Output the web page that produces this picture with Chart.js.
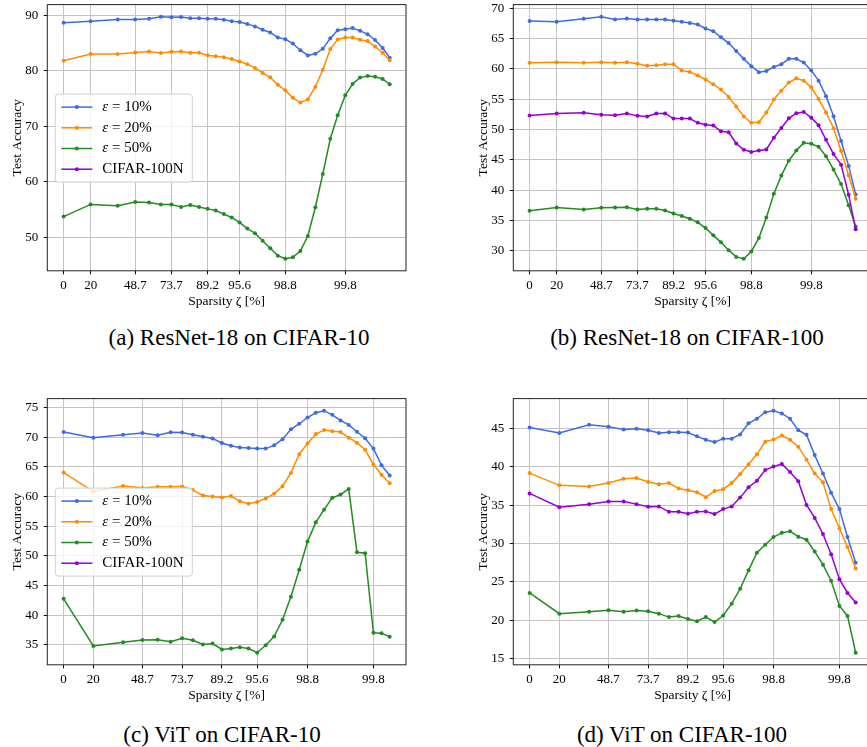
<!DOCTYPE html>
<html>
<head>
<meta charset="utf-8">
<script src="https://cdn.jsdelivr.net/npm/chart.js@4.4.1/dist/chart.umd.min.js"></script>
<style>
  html, body { margin: 0; padding: 0; background: #fff; }
  body { width: 867px; height: 747px; overflow: hidden; position: relative; font-family: 'Liberation Serif', serif; }
  .panel { position: absolute; width: 430px; height: 320px; }
  .caption { position: absolute; font-size: 23px; line-height: 23px; color: #000; white-space: nowrap; transform: translateX(-50%); }
</style>
</head>
<body>
<div class="panel" style="left:0;top:0"><canvas id="chartA" width="430" height="320"></canvas></div>
<div class="panel" style="left:466px;top:0"><canvas id="chartB" width="430" height="320"></canvas></div>
<div class="panel" style="left:0;top:394px"><canvas id="chartC" width="430" height="320"></canvas></div>
<div class="panel" style="left:466px;top:394px"><canvas id="chartD" width="430" height="320"></canvas></div>
<div class="caption" style="left:239px;top:326px">(a) ResNet-18 on CIFAR-10</div>
<div class="caption" style="left:687px;top:326px">(b) ResNet-18 on CIFAR-100</div>
<div class="caption" style="left:222px;top:723px">(c) ViT on CIFAR-10</div>
<div class="caption" style="left:682px;top:723px">(d) ViT on CIFAR-100</div>
<script>
// sparsity (%) after each pruning round
const sparsity = [0, 20, 36, 48.8, 59.04, 67.232, 73.786, 79.028, 83.223, 86.578, 89.263, 91.410, 93.128,
  94.502, 95.602, 96.482, 97.185, 97.748, 98.199, 98.559, 98.847, 99.078, 99.262, 99.410, 99.528, 99.622,
  99.698, 99.758, 99.807, 99.845, 99.876, 99.901, 99.921, 99.937, 99.949];
const denseAt = 10; // the dense model (0%) is drawn here on the logit axis
const tickIndex = [0, 1, 3, 6, 10, 14, 20, 28];
const tickLabels = ['0', '20', '48.7', '73.7', '89.2', '95.6', '98.8', '99.8'];

const seriesNames = ['ε = 10%', 'ε = 20%', 'ε = 50%', 'CIFAR-100N'];
const seriesColors = ['#4169E1', '#FF8C00', '#228B22', '#9400D3'];

// (a) ResNet-18 on CIFAR-10
const a_e10 = [88.7, 89.0, 89.3, 89.3, 89.45, 89.8, 89.7, 89.75, 89.5, 89.5, 89.45, 89.45, 89.25, 89.0, 88.85, 88.5, 88.05, 87.45, 86.95, 86.05, 85.75, 84.95, 83.75, 82.8, 83.1, 84.0, 85.9, 87.35, 87.55, 87.75, 87.25, 86.65, 85.6, 84.15, 82.4];
const a_e20 = [81.85, 83.05, 83.05, 83.35, 83.5, 83.25, 83.45, 83.5, 83.3, 83.3, 82.85, 82.65, 82.5, 82.15, 81.7, 81.2, 80.55, 79.65, 78.85, 77.5, 76.5, 75.15, 74.3, 74.85, 77.15, 80.2, 83.95, 85.7, 86.05, 86.05, 85.65, 85.4, 84.4, 83.3, 81.95];
const a_e50 = [53.7, 55.9, 55.65, 56.35, 56.25, 55.9, 55.9, 55.45, 55.8, 55.45, 55.1, 54.8, 54.15, 53.55, 52.65, 51.55, 50.7, 49.35, 48.0, 46.65, 46.1, 46.35, 47.5, 50.2, 55.4, 61.4, 67.75, 72.0, 75.6, 77.65, 78.8, 79.1, 78.95, 78.55, 77.6];

// (b) ResNet-18 on CIFAR-100
const b_e10 = [67.9, 67.75, 68.25, 68.6, 68.15, 68.3, 68.15, 68.15, 68.15, 68.15, 67.95, 67.75, 67.55, 67.3, 66.65, 66.2, 65.2, 64.25, 62.95, 61.65, 60.45, 59.45, 59.65, 60.3, 60.75, 61.65, 61.65, 61.05, 59.75, 58.05, 55.5, 52.2, 48.1, 44.0, 39.3];
const b_e20 = [61.0, 61.1, 61.0, 61.1, 61.0, 61.1, 60.85, 60.5, 60.6, 60.75, 60.75, 59.75, 59.5, 58.9, 58.25, 57.45, 56.6, 55.35, 53.8, 52.15, 51.1, 51.2, 52.8, 54.95, 56.4, 57.75, 58.45, 58.05, 56.95, 55.05, 52.8, 50.2, 46.45, 42.45, 38.6];
const b_e50 = [36.6, 37.15, 36.8, 37.1, 37.15, 37.2, 36.8, 36.95, 36.95, 36.65, 36.15, 35.75, 35.3, 34.7, 33.75, 32.55, 31.4, 30.1, 29.0, 28.7, 29.9, 32.1, 35.5, 39.4, 42.4, 44.85, 46.55, 47.8, 47.65, 47.15, 45.6, 43.4, 41.0, 37.5, 34.0];
const b_n = [52.3, 52.65, 52.75, 52.45, 52.35, 52.65, 52.25, 52.15, 52.65, 52.65, 51.8, 51.8, 51.8, 51.1, 50.8, 50.65, 49.7, 49.55, 47.7, 46.65, 46.3, 46.55, 46.7, 48.65, 50.25, 51.85, 52.7, 52.9, 51.95, 50.7, 48.3, 45.95, 44.2, 39.25, 33.55];

// (c) ViT on CIFAR-10
const c_e10 = [70.9, 69.95, 70.45, 70.75, 70.35, 70.85, 70.8, 70.45, 70.1, 69.8, 69.05, 68.6, 68.3, 68.2, 68.1, 68.1, 68.65, 69.7, 71.35, 72.3, 73.35, 74.15, 74.5, 73.8, 72.85, 72.1, 70.95, 69.85, 68.1, 65.3, 63.55];
const c_e20 = [64.05, 60.85, 61.8, 61.45, 61.65, 61.65, 61.7, 61.1, 60.2, 60.0, 59.85, 60.1, 59.2, 58.8, 59.1, 59.7, 60.5, 61.75, 64.0, 67.15, 68.95, 70.55, 71.25, 71.05, 70.9, 69.95, 69.1, 67.9, 65.4, 63.7, 62.25];
const c_e50 = [42.75, 34.8, 35.4, 35.8, 35.85, 35.5, 36.1, 35.75, 35.05, 35.2, 34.2, 34.35, 34.55, 34.35, 33.65, 34.9, 36.4, 39.2, 43.1, 47.65, 52.4, 55.65, 57.8, 59.8, 60.35, 61.3, 50.6, 50.45, 37.0, 36.95, 36.35];

// (d) ViT on CIFAR-100
const d_e10 = [45.15, 44.45, 45.5, 45.25, 44.9, 45.0, 44.8, 44.45, 44.55, 44.55, 44.5, 44.0, 43.55, 43.25, 43.7, 43.7, 44.25, 45.7, 46.3, 47.15, 47.35, 47.0, 46.3, 44.8, 44.2, 41.55, 39.15, 36.65, 34.5, 30.85, 27.5];
const d_e20 = [39.2, 37.6, 37.45, 37.9, 38.45, 38.55, 38.05, 37.75, 37.9, 37.2, 36.95, 36.7, 36.05, 36.85, 37.1, 37.9, 39.1, 40.35, 41.65, 43.3, 43.6, 44.1, 43.55, 42.65, 40.95, 39.15, 38.0, 34.5, 32.0, 29.55, 26.75];
const d_e50 = [23.55, 20.85, 21.1, 21.3, 21.1, 21.25, 21.15, 20.85, 20.4, 20.55, 20.15, 19.85, 20.4, 19.75, 20.6, 22.15, 24.1, 26.5, 28.8, 29.85, 30.85, 31.4, 31.6, 30.9, 30.5, 28.95, 27.25, 25.15, 21.85, 20.55, 15.75];
const d_n = [36.55, 34.75, 35.15, 35.5, 35.5, 35.15, 34.8, 34.85, 34.15, 34.15, 33.9, 34.15, 34.2, 33.85, 34.5, 34.85, 36.0, 37.35, 38.2, 39.6, 40.05, 40.4, 39.35, 38.15, 35.05, 33.35, 31.25, 28.6, 25.35, 23.55, 22.3];

const yTicksA = [50, 60, 70, 80, 90];
const yTicksB = [30, 35, 40, 45, 50, 55, 60, 65, 70];
const yTicksC = [35, 40, 45, 50, 55, 60, 65, 70, 75];
const yTicksD = [15, 20, 25, 30, 35, 40, 45];

const FONT = 'Liberation Serif';
const gridColor = '#c4c4c4';

// x axis is a logit scale of the sparsity
function toAxis(s) {
    const p = (s === 0 ? denseAt : s) / 100;
    return Math.log(p / (1 - p));
}

// frame round the axes and the legend box, like matplotlib
const framePlugin = {
    id: 'frameAndLegend',
    afterDatasetsDraw(chart, args, opts) {
        const ctx = chart.ctx, a = chart.chartArea;
        ctx.save();
        ctx.strokeStyle = '#222';
        ctx.lineWidth = 1;
        ctx.strokeRect(a.left, a.top, a.right - a.left, a.bottom - a.top);

        if (opts.legend) {
            const x = a.left + 8, y = a.top + 89.5, w = 137, h = 88;
            ctx.beginPath();
            ctx.roundRect(x, y, w, h, 3);
            ctx.fillStyle = 'rgba(255,255,255,0.8)';
            ctx.fill();
            ctx.strokeStyle = '#d0d0d0';
            ctx.stroke();
            seriesNames.forEach((name, i) => {
                const cy = y + 13 + i * 20.7;
                ctx.strokeStyle = seriesColors[i];
                ctx.lineWidth = 1.5;
                ctx.beginPath();
                ctx.moveTo(x + 6, cy);
                ctx.lineTo(x + 37, cy);
                ctx.stroke();
                ctx.fillStyle = seriesColors[i];
                ctx.beginPath();
                ctx.arc(x + 21.5, cy, 2, 0, Math.PI * 2);
                ctx.fill();
                ctx.fillStyle = '#000';
                ctx.textBaseline = 'middle';
                let tx = x + 47;
                if (name.startsWith('ε')) {
                    ctx.font = 'italic 15px ' + FONT;
                    ctx.fillText('ε', tx, cy);
                    tx += ctx.measureText('ε').width;
                    name = name.slice(1);
                }
                ctx.font = '15px ' + FONT;
                ctx.fillText(name, tx, cy);
            });
        }
        ctx.restore();
    }
};

function makeChart(id, series, yTicks, showLegend) {
    const n = series[0].length;
    const xs = sparsity.slice(0, n).map(toAxis);
    const all = series.flat();
    const ymin = Math.min(...all), ymax = Math.max(...all), yr = ymax - ymin;
    const xmin = xs[0], xmax = xs[n - 1], xr = xmax - xmin;
    const tickFont = { family: FONT, size: 13 };
    const titleFont = { family: FONT, size: 13.5 };

    const datasets = series.map((vals, i) => ({
        label: seriesNames[i],
        data: vals.map((v, k) => ({ x: xs[k], y: v })),
        borderColor: seriesColors[i],
        backgroundColor: seriesColors[i],
        borderWidth: 1.5,
        pointRadius: 2,
        pointHoverRadius: 2,
        pointBorderWidth: 0,
        tension: 0,
        order: series.length - i
    }));

    return new Chart(document.getElementById(id), {
        type: 'line',
        data: { datasets: datasets },
        options: {
            responsive: false,
            animation: false,
            events: [],
            layout: { padding: { top: 4.6, right: 24, left: 0, bottom: 0 } },
            plugins: {
                legend: { display: false },
                tooltip: { enabled: false },
                frameAndLegend: { legend: showLegend }
            },
            scales: {
                x: {
                    type: 'linear',
                    min: xmin - 0.05 * xr,
                    max: xmax + 0.05 * xr,
                    afterBuildTicks: s => { s.ticks = tickIndex.map(k => ({ value: xs[k] })); },
                    afterFit: s => { s.height = 49.2; s.paddingLeft = 0; s.paddingRight = 0; },
                    ticks: {
                        callback: (v, i) => tickLabels[i],
                        font: tickFont, color: '#000', padding: 3.5,
                        maxRotation: 0, autoSkip: false
                    },
                    grid: { color: gridColor, lineWidth: 1, tickColor: '#000', tickLength: 3.5 },
                    border: { display: false },
                    title: { display: true, text: 'Sparsity ζ [%]', font: titleFont, color: '#000', padding: { top: 0, bottom: 10 } }
                },
                y: {
                    type: 'linear',
                    min: ymin - 0.05 * yr,
                    max: ymax + 0.05 * yr,
                    afterBuildTicks: s => { s.ticks = yTicks.map(v => ({ value: v })); },
                    afterFit: s => { s.width = 47.3; s.paddingTop = 0; s.paddingBottom = 0; },
                    ticks: { callback: v => String(v), font: tickFont, color: '#000', padding: 5.5 },
                    grid: { color: gridColor, lineWidth: 1, tickColor: '#000', tickLength: 3.5 },
                    border: { display: false },
                    title: { display: true, text: 'Test Accuracy', font: titleFont, color: '#000', padding: { top: 9, bottom: 0 } }
                }
            }
        },
        plugins: [framePlugin]
    });
}

makeChart('chartA', [a_e10, a_e20, a_e50], yTicksA, true);
makeChart('chartB', [b_e10, b_e20, b_e50, b_n], yTicksB, false);
makeChart('chartC', [c_e10, c_e20, c_e50], yTicksC, true);
makeChart('chartD', [d_e10, d_e20, d_e50, d_n], yTicksD, false);
</script>
</body>
</html>
